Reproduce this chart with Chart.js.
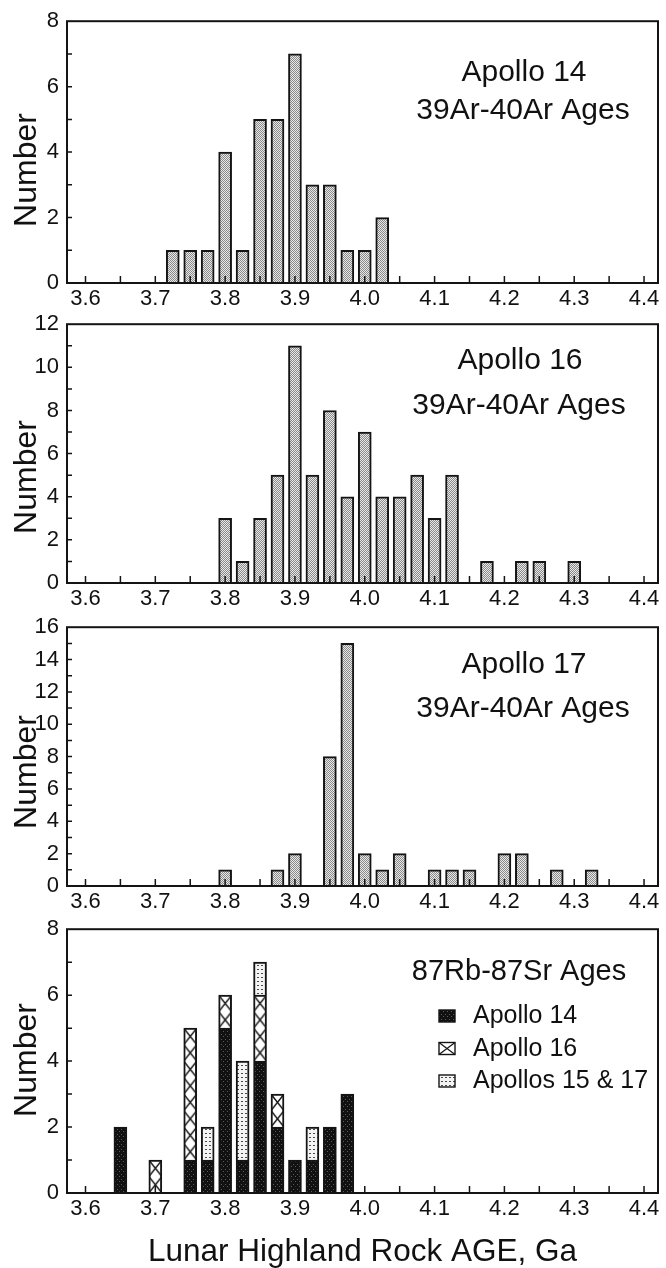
<!DOCTYPE html>
<html><head><meta charset="utf-8">
<script src="https://cdn.jsdelivr.net/npm/chart.js@4.4.1/dist/chart.umd.min.js"></script>
<style>
html,body{margin:0;padding:0;background:#fff;width:666px;height:1268px;overflow:hidden}
canvas{position:absolute;left:0}
</style></head><body>
<canvas id="c1"></canvas>
<canvas id="c2"></canvas>
<canvas id="c3"></canvas>
<canvas id="c4"></canvas>
<script>
// ---------------- DATA ----------------
const apollo14ArBins   = [3.725,3.75,3.775,3.8,3.825,3.85,3.875,3.9,3.925,3.95,3.975,4.0,4.025];
const apollo14ArCounts = [1,1,1,4,1,5,5,7,3,3,1,1,2];

const apollo16ArBins   = [3.8,3.825,3.85,3.875,3.9,3.925,3.95,3.975,4.0,4.025,4.05,4.075,4.1,4.125,4.175,4.225,4.25,4.3];
const apollo16ArCounts = [3,1,3,5,11,5,8,4,7,4,4,5,3,5,1,1,1,1];

const apollo17ArBins   = [3.8,3.875,3.9,3.95,3.975,4.0,4.025,4.05,4.1,4.125,4.15,4.2,4.225,4.275,4.325];
const apollo17ArCounts = [1,1,2,8,15,2,1,2,1,1,1,2,2,1,1];

const rbSrBins        = [3.65,3.7,3.75,3.775,3.8,3.825,3.85,3.875,3.9,3.925,3.95,3.975];
const rbSrApollo14    = [2,0,1,1,5,1,4,2,1,1,2,3];
const rbSrApollo16    = [0,1,4,0,1,0,2,1,0,0,0,0];
const rbSrApollos1517 = [0,0,0,1,0,3,1,0,0,1,0,0];

const xTickValues = [3.6,3.7,3.8,3.9,4.0,4.1,4.2,4.3,4.4];
const xTickLabels = ['3.6','3.7','3.8','3.9','4.0','4.1','4.2','4.3','4.4'];
const xMinorTicks = [3.6,3.65,3.7,3.75,3.8,3.85,3.9,3.95,4.0,4.05,4.1,4.15,4.2,4.25,4.3,4.35,4.4];
const yTicksA14  = [0,2,4,6,8];
const yTicksA16  = [0,2,4,6,8,10,12];
const yTicksA17  = [0,2,4,6,8,10,12,14,16];
const yTicksRbSr = [0,2,4,6,8];

const yAxisLabel = 'Number';
const xAxisLabel = 'Lunar Highland Rock AGE, Ga';
const panelTitles = [['Apollo 14','39Ar-40Ar Ages'],['Apollo 16','39Ar-40Ar Ages'],['Apollo 17','39Ar-40Ar Ages'],['87Rb-87Sr Ages']];
const legendLabels = ['Apollo 14','Apollo 16','Apollos 15 & 17'];

// ---------------- STYLE ----------------
const FONT = "'Liberation Sans', Arial, Helvetica, sans-serif";
Chart.defaults.font.family = FONT;
Chart.defaults.color = '#111';
const X_MIN = 3.5735, X_MAX = 4.42;
const INK = '#141414';

const tileCanvas = (w, h, draw) => { const c = document.createElement('canvas'); c.width = w; c.height = h; draw(c.getContext('2d')); return c; };
const patCtx = document.createElement('canvas').getContext('2d');
const grayTile = tileCanvas(2, 2, g => { g.fillStyle = '#e8e8e8'; g.fillRect(0,0,2,2); g.fillStyle = '#8a8a8a'; g.fillRect(0,0,1,1); g.fillRect(1,1,1,1); });
const blackTile = tileCanvas(4, 5, g => { g.fillStyle = '#111'; g.fillRect(0,0,4,5); g.fillStyle = '#5a5a5a'; g.fillRect(1,1,1,1); g.fillRect(3,3,1,1); });
const dotTile = tileCanvas(4, 4, g => { g.fillStyle = '#f4f4f4'; g.fillRect(0,0,4,4); g.fillStyle = '#4a4a4a'; g.fillRect(1,1,2,1); });
const hatchTile = tileCanvas(13, 17, g => { g.fillStyle = '#fff'; g.fillRect(0,0,13,17); g.strokeStyle = INK; g.lineWidth = 1.4; g.beginPath(); g.moveTo(0,0); g.lineTo(13,17); g.moveTo(13,0); g.lineTo(0,17); g.stroke(); });
const grayPat = patCtx.createPattern(grayTile, 'repeat');
const blackPat = patCtx.createPattern(blackTile, 'repeat');
const dotPat = patCtx.createPattern(dotTile, 'repeat');
function hatchFill(ctx) {
  const ch = ctx.chart;
  if (ctx.type !== 'data' || !ch.scales || !ch.scales.x || !ch.scales.y) return '#fff';
  const xv = ctx.parsed ? ctx.parsed.x : ctx.raw.x;
  let base = 0;
  for (let d = 0; d < ctx.datasetIndex; d++) {
    const pt = ch.data.datasets[d].data[ctx.dataIndex];
    if (pt && pt.y) base += pt.y;
  }
  const px = ch.scales.x.getPixelForValue(xv);
  const py = ch.scales.y.getPixelForValue(base);
  const unit = Math.abs(ch.scales.y.getPixelForValue(0) - ch.scales.y.getPixelForValue(1));
  const p = patCtx.createPattern(hatchTile, 'repeat');
  p.setTransform(new DOMMatrix().translate(px - 6.5, py).scale(1, (unit / 2) / 17));
  return p;
}

const toXY = (bins, vals) => bins.map((b, i) => ({ x: b, y: vals[i] > 0 ? vals[i] : null }));

const overlay = {
  id: 'overlay',
  afterDatasetsDraw(chart, args, o) {
    const { ctx, chartArea: a, scales: { x, y } } = chart;
    const ct = o.canvasTop;
    ctx.save();
    ctx.strokeStyle = INK;
    ctx.lineWidth = 1.5;
    ctx.beginPath();
    xMinorTicks.forEach(v => { const px = x.getPixelForValue(v); ctx.moveTo(px, a.bottom); ctx.lineTo(px, a.bottom - 7); });
    for (let v = 1; v < y.max; v++) { const py = y.getPixelForValue(v); ctx.moveTo(a.left, py); ctx.lineTo(a.left + 5, py); }
    ctx.stroke();
    ctx.lineWidth = 2;
    ctx.strokeRect(a.left, a.top, a.right - a.left, a.bottom - a.top);
    // annotation texts
    ctx.fillStyle = '#111';
    ctx.textAlign = 'center';
    ctx.textBaseline = 'alphabetic';
    o.texts.forEach(t => { ctx.font = t.size + 'px ' + FONT; ctx.fillText(t.text, t.x, t.y - ct); });
    // y axis label
    ctx.save();
    ctx.translate(o.ylabel.x, o.ylabel.y - ct);
    ctx.rotate(-Math.PI / 2);
    ctx.font = o.ylabel.size + 'px ' + FONT;
    ctx.textBaseline = 'middle';
    ctx.fillText(yAxisLabel, 0, 0);
    ctx.restore();
    // legend
    if (o.legend) {
      const L = o.legend;
      ctx.textAlign = 'left';
      ctx.font = L.size + 'px ' + FONT;
      chart.data.datasets.forEach((ds, i) => {
        const by = L.y0 + i * L.dy - ct;
        ctx.strokeStyle = INK;
        if (i === 1) {
          ctx.fillStyle = '#fff'; ctx.fillRect(L.x, by, L.w, L.h);
          ctx.beginPath(); ctx.moveTo(L.x, by); ctx.lineTo(L.x + L.w, by + L.h); ctx.moveTo(L.x + L.w, by); ctx.lineTo(L.x, by + L.h);
          ctx.lineWidth = 1.2; ctx.stroke();
        } else {
          ctx.fillStyle = ds.legendFill; ctx.fillRect(L.x, by, L.w, L.h);
        }
        ctx.lineWidth = 1.4; ctx.strokeRect(L.x, by, L.w, L.h);
        ctx.fillStyle = '#111';
        ctx.fillText(ds.label, L.tx, by + L.h + 1);
      });
    }
    ctx.restore();
  }
};

function makeChart(id, p) {
  const el = document.getElementById(id);
  const canvasTop = p.areaTop - 15;
  const H = (p.areaBottom - p.areaTop) + 15 + p.xh;
  el.width = 666; el.height = H; el.style.top = canvasTop + 'px';
  return new Chart(el, {
    type: 'bar',
    data: { datasets: p.datasets },
    options: {
      responsive: false, animation: false, events: [],
      layout: { autoPadding: false, padding: { top: 15, right: 8, left: 0, bottom: 0 } },
      plugins: { legend: { display: false }, tooltip: { enabled: false },
        overlay: { canvasTop, texts: p.texts, ylabel: p.ylabel, legend: p.legend } },
      scales: {
        x: {
          type: 'linear', min: X_MIN, max: X_MAX, offset: false, bounds: 'data', stacked: !!p.stacked,
          grid: { display: false, drawTicks: false }, border: { display: false },
          afterBuildTicks: s => { s.ticks = xTickValues.map(v => ({ value: v })); },
          afterFit: s => { s.height = p.xh; },
          ticks: { autoSkip: false, maxRotation: 0, padding: 3, font: { size: 22 }, color: '#111',
                   callback: (v, i) => xTickLabels[i] },
          title: p.xTitle ? { display: true, text: xAxisLabel, font: { size: 31.5, lineHeight: 1 }, padding: { top: 0, bottom: 0 }, color: '#111' } : { display: false }
        },
        y: {
          type: 'linear', min: 0, max: p.yMax, stacked: !!p.stacked,
          grid: { display: false, drawTicks: false }, border: { display: false },
          afterBuildTicks: s => { s.ticks = p.yTicks.map(v => ({ value: v })); },
          afterFit: s => { s.width = 67; },
          ticks: { autoSkip: false, padding: 8, font: { size: 22 }, color: '#111' }
        }
      }
    },
    plugins: [overlay]
  });
}

const barStyle = { barThickness: 13, borderWidth: 2, borderColor: INK, backgroundColor: grayPat };

makeChart('c1', {
  areaTop: 15, areaBottom: 283, xh: 35, yMax: 8, yTicks: yTicksA14,
  datasets: [Object.assign({ label: panelTitles[0][0], data: toXY(apollo14ArBins, apollo14ArCounts) }, barStyle)],
  texts: [{ text: panelTitles[0][0], x: 524, y: 81, size: 30 }, { text: panelTitles[0][1], x: 523, y: 119, size: 30 }],
  ylabel: { x: 27, y: 170, size: 32 }
});
makeChart('c2', {
  areaTop: 318, areaBottom: 583, xh: 35, yMax: 12, yTicks: yTicksA16,
  datasets: [Object.assign({ label: panelTitles[1][0], data: toXY(apollo16ArBins, apollo16ArCounts) }, barStyle)],
  texts: [{ text: panelTitles[1][0], x: 520, y: 369, size: 30 }, { text: panelTitles[1][1], x: 519, y: 414, size: 30 }],
  ylabel: { x: 27, y: 477, size: 32 }
});
makeChart('c3', {
  areaTop: 621, areaBottom: 886, xh: 35, yMax: 16, yTicks: yTicksA17,
  datasets: [Object.assign({ label: panelTitles[2][0], data: toXY(apollo17ArBins, apollo17ArCounts) }, barStyle)],
  texts: [{ text: panelTitles[2][0], x: 524, y: 673, size: 30 }, { text: panelTitles[2][1], x: 523, y: 717, size: 30 }],
  ylabel: { x: 27, y: 772, size: 32 }
});
makeChart('c4', {
  areaTop: 923, areaBottom: 1193, xh: 75, yMax: 8, yTicks: yTicksRbSr, stacked: true, xTitle: true,
  datasets: [
    Object.assign({}, barStyle, { label: legendLabels[0], data: toXY(rbSrBins, rbSrApollo14), backgroundColor: blackPat, legendFill: blackPat }),
    Object.assign({}, barStyle, { label: legendLabels[1], data: toXY(rbSrBins, rbSrApollo16), backgroundColor: hatchFill }),
    Object.assign({}, barStyle, { label: legendLabels[2], data: toXY(rbSrBins, rbSrApollos1517), backgroundColor: dotPat, legendFill: dotPat })
  ],
  texts: [{ text: panelTitles[3][0], x: 519, y: 980, size: 29 }],
  ylabel: { x: 27, y: 1060, size: 32 },
  legend: { x: 439, y0: 1010, dy: 32.5, w: 16, h: 12, tx: 473, size: 25 }
});
</script>
</body></html>
